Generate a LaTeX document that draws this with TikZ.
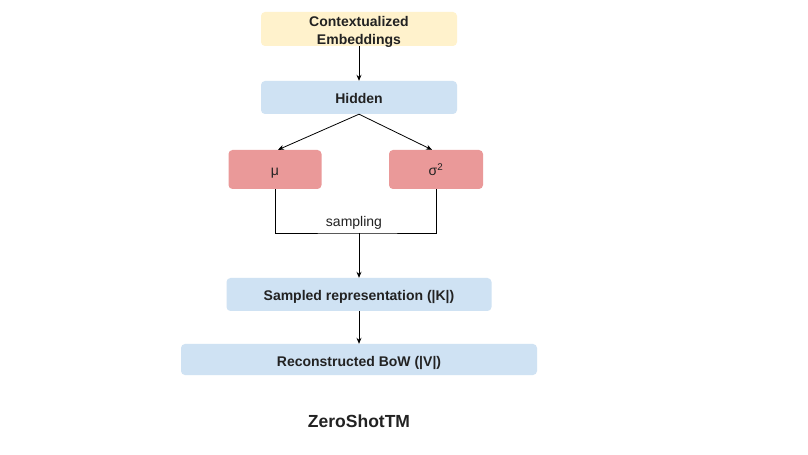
\documentclass[tikz,border=0pt]{standalone}
\usepackage{fontspec}
\setmainfont{Liberation Sans}
\usetikzlibrary{arrows.meta}
\definecolor{cyellow}{HTML}{FFF2CC}
\definecolor{cblue}{HTML}{CFE2F3}
\definecolor{cred}{HTML}{EA9999}
\definecolor{ctext}{HTML}{222222}
\begin{document}
\begin{tikzpicture}[x=1bp,y=-1bp,
  base/.style={rectangle,rounded corners=4bp,inner sep=0pt,text=ctext},
  boldtext/.style={text=ctext,font=\fontsize{14bp}{18bp}\selectfont\bfseries,align=center},
  box/.style={base,boldtext},
  onebox/.style={box,text height=13bp,text depth=0bp},
  redbox/.style={base,fill=cred,font=\fontsize{14bp}{16bp}\selectfont,text height=13bp,text depth=0bp},
  conn/.style={draw=black,line width=0.8bp},
  arr/.style={conn,-{Stealth[length=6bp,width=5bp]}}]
\useasboundingbox[fill=white] (0,0) rectangle (808,455);
\node[base,fill=cyellow,minimum width=196bp,minimum height=34bp,
  label={[boldtext,inner sep=0pt,yshift=-2.5bp]center:Contextualized\\Embeddings}] (ctx) at (359,29) {};
\node[onebox,fill=cblue,minimum width=196bp,minimum height=33bp] (hid) at (359,97.5) {Hidden};
\node[redbox,minimum width=93bp,minimum height=39bp] (mu) at (275,169.5) {μ};
\node[redbox,minimum width=94bp,minimum height=39bp] (sig) at (436,169.5) {σ\textsuperscript{2}};
\node[onebox,fill=cblue,minimum width=265bp,minimum height=33bp] (samp) at (359,294.5) {Sampled representation (|K|)};
\node[onebox,fill=cblue,minimum width=356bp,minimum height=31bp] (rec) at (359,359.5) {Reconstructed BoW (|V|)};
\node[text=ctext,font=\fontsize{17.5bp}{20bp}\selectfont\bfseries] (title) at (359,421) {ZeroShotTM};
\coordinate (j) at (359,233);
\node[text=ctext,font=\fontsize{14bp}{16bp}\selectfont,anchor=base] (lab) at (354,227) {sampling};
\draw[arr] (ctx.south) -- (hid.north);
\draw[arr] (hid.south) -- ([xshift=3bp]mu.north);
\draw[arr] (hid.south) -- ([xshift=-4bp]sig.north);
\draw[conn] (mu.south) |- (j) -| (sig.south);
\draw[arr] (j) -- (samp.north);
\draw[arr] (samp.south) -- (rec.north);
\end{tikzpicture}
\end{document}
